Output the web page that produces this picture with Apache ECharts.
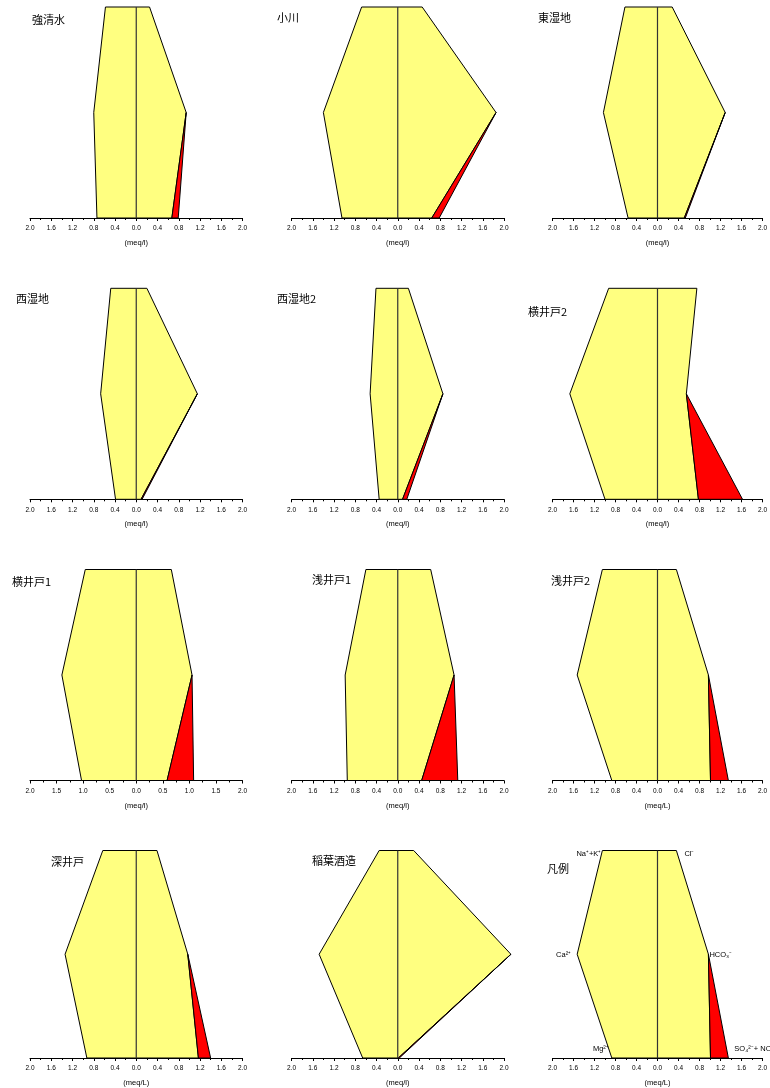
<!DOCTYPE html>
<html>
<head>
<meta charset="utf-8">
<script src="https://cdn.jsdelivr.net/npm/echarts@6/dist/echarts.min.js"></script>
<style>
  html, body { margin: 0; padding: 0; background: #fff; }
  #chart { width: 770px; height: 1088px; }
</style>
</head>
<body>
<div id="chart"></div>
<script>
// sample names (stiff diagrams, meq/l)
const sites = ['強清水', '小川', '東湿地', '西湿地', '西湿地2', '横井戸2',
               '横井戸1', '浅井戸1', '浅井戸2', '深井戸', '稲葉酒造', '凡例'];
const units = ['(meq/l)', '(meq/l)', '(meq/l)', '(meq/l)', '(meq/l)', '(meq/l)',
               '(meq/l)', '(meq/l)', '(meq/L)', '(meq/L)', '(meq/l)', '(meq/L)'];
const tickStep = [0.4, 0.4, 0.4, 0.4, 0.4, 0.4, 0.5, 0.4, 0.4, 0.4, 0.4, 0.4];

// cations (left side)
const naK = [0.58, 0.68, 0.62, 0.48, 0.41, 0.93, 0.96, 0.60, 1.05, 0.63, 0.35, 1.05];
const ca  = [0.80, 1.40, 1.03, 0.67, 0.52, 1.67, 1.40, 0.99, 1.53, 1.34, 1.48, 1.53];
const mg  = [0.74, 1.05, 0.56, 0.39, 0.35, 1.00, 1.03, 0.95, 0.87, 0.93, 0.66, 0.87];
// anions (right side)
const cl    = [0.25, 0.46, 0.28, 0.20, 0.20, 0.75, 0.66, 0.62, 0.36, 0.39, 0.30, 0.36];
const hco3  = [0.94, 1.85, 1.29, 1.15, 0.85, 0.55, 1.05, 1.06, 0.97, 0.97, 2.13, 0.97];
const so4   = [0.67, 0.64, 0.51, 0.09, 0.09, 0.78, 0.58, 0.45, 1.01, 1.17, 0.01, 1.01];
const so4no3 = [0.79, 0.78, 0.53, 0.11, 0.17, 1.62, 1.08, 1.13, 1.35, 1.40, 0.03, 1.35];

const legendIons = ['Na⁺+K⁺', 'Ca²⁺', 'Mg²⁺', 'Cl⁻', 'HCO₃⁻', 'SO₄²⁻+ NO₃⁻'];

// layout
const colLeft = [30, 291.5, 552.5];
const rowTop = [7, 288.3, 569.5, 850.5];
const gridW = 212.5, gridH = 211;
const titlePos = [[32, 20], [277, 18], [538, 18], [16, 299], [277, 299], [528, 312],
                  [12, 582], [312, 580], [551, 581], [51, 862], [312, 861], [547, 869]];

const labelFont = 'Liberation Sans, Arial, sans-serif';
const jpFont = '"Noto Sans CJK JP", sans-serif';

function renderStiff(params, api) {
  const v = i => api.value(i);
  const p = (x, y) => api.coord([x, y]);
  const yellow = [p(-v(0), 2), p(-v(1), 1), p(-v(2), 0), p(v(5), 0), p(v(4), 1), p(v(3), 2)];
  const red = [p(v(4), 1), p(v(5), 0), p(v(6), 0)];
  const children = [
    { type: 'polygon', shape: { points: yellow },
      style: { fill: '#ffff80', stroke: '#000', lineWidth: 1 } },
    { type: 'polygon', shape: { points: red },
      style: { fill: '#ff0000', stroke: '#000', lineWidth: 1 } },
    { type: 'line', shape: { x1: p(0, 2)[0], y1: p(0, 2)[1], x2: p(0, 0)[0], y2: p(0, 0)[1] },
      style: { stroke: '#333', lineWidth: 1.2 } }
  ];
  if (params.seriesIndex === sites.length - 1) {
    const t = (text, pt, dx, dy, align) => ({
      type: 'text', x: pt[0] + dx, y: pt[1] + dy,
      style: { text: text, fill: '#000', fontSize: 7.5, fontFamily: labelFont,
               align: align, verticalAlign: 'middle' }
    });
    children.push(
      t(legendIons[0], yellow[0], -1, 3, 'right'),
      t(legendIons[1], yellow[1], -6, 1, 'right'),
      t(legendIons[2], yellow[2], -3, -9, 'right'),
      t(legendIons[3], yellow[5], 8, 3, 'left'),
      t(legendIons[4], yellow[4], 1, 1, 'left'),
      t(legendIons[5], red[2], 6, -9, 'left')
    );
  }
  return { type: 'group', children: children };
}

const grids = [], xAxes = [], yAxes = [], series = [], graphics = [];
sites.forEach((name, i) => {
  const r = Math.floor(i / 3), c = i % 3;
  grids.push({ left: colLeft[c], top: rowTop[r], width: gridW, height: gridH });
  xAxes.push({
    gridIndex: i, type: 'value', min: -2, max: 2, interval: tickStep[i],
    name: units[i], nameLocation: 'middle', nameGap: 21,
    nameTextStyle: { fontSize: 7.5, fontFamily: labelFont, color: '#000' },
    axisLine: { onZero: false, lineStyle: { color: '#000', width: 1 } },
    axisTick: { length: 3, lineStyle: { color: '#000' } },
    minorTick: { show: true, splitNumber: 2, length: 2, lineStyle: { color: '#000' } },
    splitLine: { show: false },
    axisLabel: { fontSize: 6.5, fontFamily: labelFont, color: '#000', margin: 7,
                 formatter: val => Math.abs(val).toFixed(1) }
  });
  yAxes.push({ gridIndex: i, type: 'value', min: 0, max: 2, show: false });
  series.push({
    type: 'custom', xAxisIndex: i, yAxisIndex: i, clip: false, silent: true,
    renderItem: renderStiff,
    data: [[naK[i], ca[i], mg[i], cl[i], hco3[i], so4[i], so4no3[i]]]
  });
  graphics.push({
    type: 'text', x: titlePos[i][0], y: titlePos[i][1],
    style: { text: name, fill: '#000', fontSize: 11, fontFamily: jpFont, verticalAlign: 'middle' }
  });
});

const chart = echarts.init(document.getElementById('chart'));
chart.setOption({
  animation: false,
  backgroundColor: '#fff',
  grid: grids,
  xAxis: xAxes,
  yAxis: yAxes,
  series: series,
  graphic: graphics
});
</script>
</body>
</html>
